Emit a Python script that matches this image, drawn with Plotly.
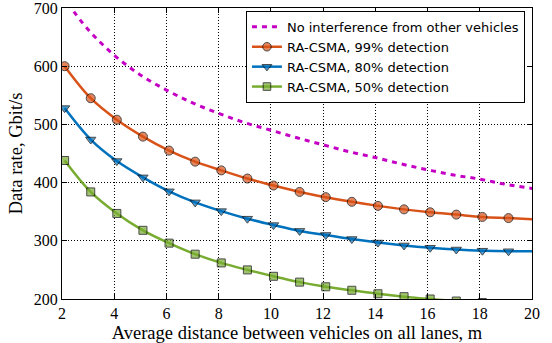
import plotly.graph_objects as go

# ---- data ----
x_marks = [2.1, 3.1, 4.1, 5.1, 6.1, 7.1, 8.1, 9.1, 10.1, 11.1, 12.1, 13.1, 14.1, 15.1, 16.1, 17.1, 18.1, 19.1, 20.0]

rate_99 = [600, 545, 508, 479, 455, 436, 421, 407, 395, 384, 375, 367, 360, 354, 349, 345, 341, 339, 337]
rate_80 = [528, 474, 437, 409, 385, 366, 351, 338, 327, 317, 310, 303, 297, 292, 288, 285, 283, 282, 282]
rate_50 = [438, 384, 347, 318, 296, 277, 262, 250, 239, 229, 221, 215, 209, 204, 200, 196.5, 194, 192, 191]

x_free = [2, 3, 4, 5, 6, 7, 8, 9, 10, 11, 12, 13, 14, 15, 16, 17, 18, 19, 20]
rate_free = [722, 663, 619, 585, 559, 537, 519, 503, 490, 477, 465, 453, 443, 432, 422, 413, 406, 397, 390]

x_ticks = [2, 4, 6, 8, 10, 12, 14, 16, 18, 20]
y_ticks = [200, 300, 400, 500, 600, 700]

names = ["No interference from other vehicles",
         "RA-CSMA, 99% detection",
         "RA-CSMA, 80% detection",
         "RA-CSMA, 50% detection"]

fig = go.Figure()

fig.add_trace(go.Scatter(
    x=x_free, y=rate_free, mode="lines", name=names[0],
    line=dict(color="#C400C4", width=3, dash="5px,5px", shape="spline"),
))

series = [
    (rate_99, names[1], "#D95319", "circle", 9),
    (rate_80, names[2], "#0072BD", "triangle-down", 9),
    (rate_50, names[3], "#77AC30", "square", 8),
]
for vals, nm, col, sym, sz in series:
    sizes = [sz] * (len(x_marks) - 1) + [0]
    fig.add_trace(go.Scatter(
        x=x_marks, y=vals, mode="lines+markers", name=nm,
        line=dict(color=col, width=2.5, shape="spline"),
        marker=dict(symbol=sym, size=sizes, color=col,
                    line=dict(color="#000000", width=1)),
    ))

serif = "Liberation Serif"
axis_common = dict(
    showline=True, linecolor="black", linewidth=1, mirror="allticks",
    ticks="inside", ticklen=5, tickcolor="black", tickwidth=1,
    showgrid=True, gridcolor="black", gridwidth=1, griddash="1px,2px",
    zeroline=False, automargin=False, ticklabeloverflow="allow",
    tickfont=dict(family=serif, size=16, color="black"),
)

fig.update_xaxes(
    range=[2, 20], tickvals=x_ticks, ticktext=[str(v) for v in x_ticks],
    title=dict(text="Average distance between vehicles on all lanes, m",
               font=dict(family=serif, size=18.5, color="black"), standoff=4),
    **axis_common,
)
fig.update_yaxes(
    range=[200, 700], tickvals=y_ticks, ticktext=[str(v) for v in y_ticks],
    title=dict(text="Data rate, Gbit/s",
               font=dict(family=serif, size=18.5, color="black"), standoff=6),
    **axis_common,
)

fig.update_layout(
    width=552, height=343,
    margin=dict(l=62, r=20, t=8, b=44),
    plot_bgcolor="white", paper_bgcolor="white",
    legend=dict(
        x=0.985, y=0.99, xanchor="right", yanchor="top",
        bgcolor="white", bordercolor="black", borderwidth=1,
        font=dict(family="DejaVu Sans", size=13, color="black"),
        itemwidth=30, tracegroupgap=0,
    ),
    showlegend=True,
)

fig.write_html("out.html",
               config={"displayModeBar": False},
               post_script="document.body.style.margin='0';document.body.style.padding='0';")
